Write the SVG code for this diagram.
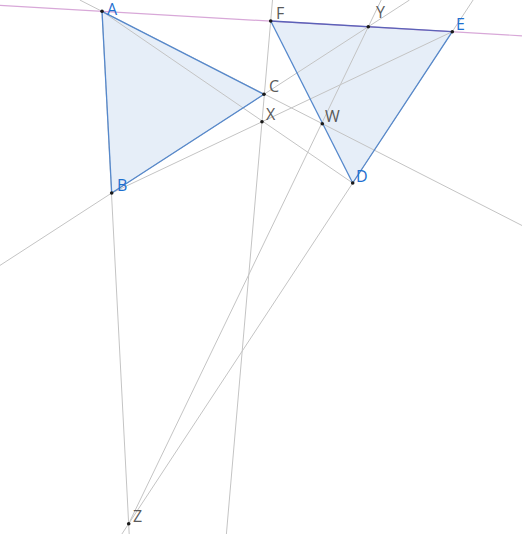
<svg xmlns="http://www.w3.org/2000/svg" width="522" height="534" viewBox="0 0 522 534">
<style>
.bg{fill:#ffffff}
.tri{fill:#e6eef8;stroke:none}
.ln{stroke:#c4c4c4;stroke-width:1;fill:none}
.pink{stroke:#d8a8d8;stroke-width:1.2;fill:none}
.edge{stroke:#5588cc;stroke-width:1.3;fill:none}
.edge2{stroke:#5a62b8;stroke-width:1.3;fill:none}
.pt{fill:#1a1a1a}
.lb{font-family:"Open Sans","Noto Sans","DejaVu Sans",sans-serif;font-size:16px}
.blue{fill:#1e6fcf}
.gray{fill:#5a5a5a}
</style>
<rect class="bg" x="0" y="0" width="522" height="534"/>
<g id="triangles">
<polygon class="tri" points="102,11.3 111.7,193 264,94.3"/>
<polygon class="tri" points="270.7,21 452.3,31.7 352.7,183"/>
</g>
<g id="connectors">
<line class="ln" x1="102" y1="11.3" x2="129.2" y2="534"/>
<line class="ln" x1="0" y1="265.4" x2="409.5" y2="0"/>
<line class="ln" x1="111.7" y1="193" x2="452.3" y2="31.7"/>
<line class="ln" x1="102" y1="11.3" x2="352.7" y2="183"/>
<line class="ln" x1="79.8" y1="0" x2="522" y2="225.5"/>
<line class="ln" x1="272.5" y1="0" x2="226.4" y2="534"/>
<line class="ln" x1="381.2" y1="0" x2="128.7" y2="523.7"/>
<line class="ln" x1="473.1" y1="0" x2="121.9" y2="534"/>
<line class="pink" x1="0" y1="5.4" x2="522" y2="35.8"/>
<line class="edge" x1="102" y1="11.3" x2="111.7" y2="193"/>
<line class="edge" x1="111.7" y1="193" x2="264" y2="94.3"/>
<line class="edge" x1="264" y1="94.3" x2="102" y2="11.3"/>
<line class="edge2" x1="270.7" y1="21" x2="452.3" y2="31.7"/>
<line class="edge" x1="452.3" y1="31.7" x2="352.7" y2="183"/>
<line class="edge" x1="352.7" y1="183" x2="270.7" y2="21"/>
</g>
<g id="A"><circle class="pt" cx="102" cy="11.3" r="1.8"/><text class="lb blue" x="107" y="14.5">A</text></g>
<g id="B"><circle class="pt" cx="111.7" cy="193" r="1.8"/><text class="lb blue" x="117" y="191">B</text></g>
<g id="C"><circle class="pt" cx="264" cy="94.3" r="1.8"/><text class="lb gray" x="269" y="92">C</text></g>
<g id="D"><circle class="pt" cx="352.7" cy="183" r="1.8"/><text class="lb blue" x="356" y="181.5">D</text></g>
<g id="E"><circle class="pt" cx="452.3" cy="31.7" r="1.8"/><text class="lb blue" x="456" y="30">E</text></g>
<g id="F"><circle class="pt" cx="270.7" cy="21" r="1.8"/><text class="lb gray" x="276" y="18.5">F</text></g>
<g id="X"><circle class="pt" cx="262" cy="121.7" r="1.8"/><text class="lb gray" x="266" y="119.5">X</text></g>
<g id="Y"><circle class="pt" cx="368.3" cy="26.7" r="1.8"/><text class="lb gray" x="376" y="17.5">Y</text></g>
<g id="W"><circle class="pt" cx="322.3" cy="123.7" r="1.8"/><text class="lb gray" x="325" y="121.5">W</text></g>
<g id="Z"><circle class="pt" cx="128.7" cy="523.7" r="1.8"/><text class="lb gray" x="133" y="521.5">Z</text></g>
</svg>
